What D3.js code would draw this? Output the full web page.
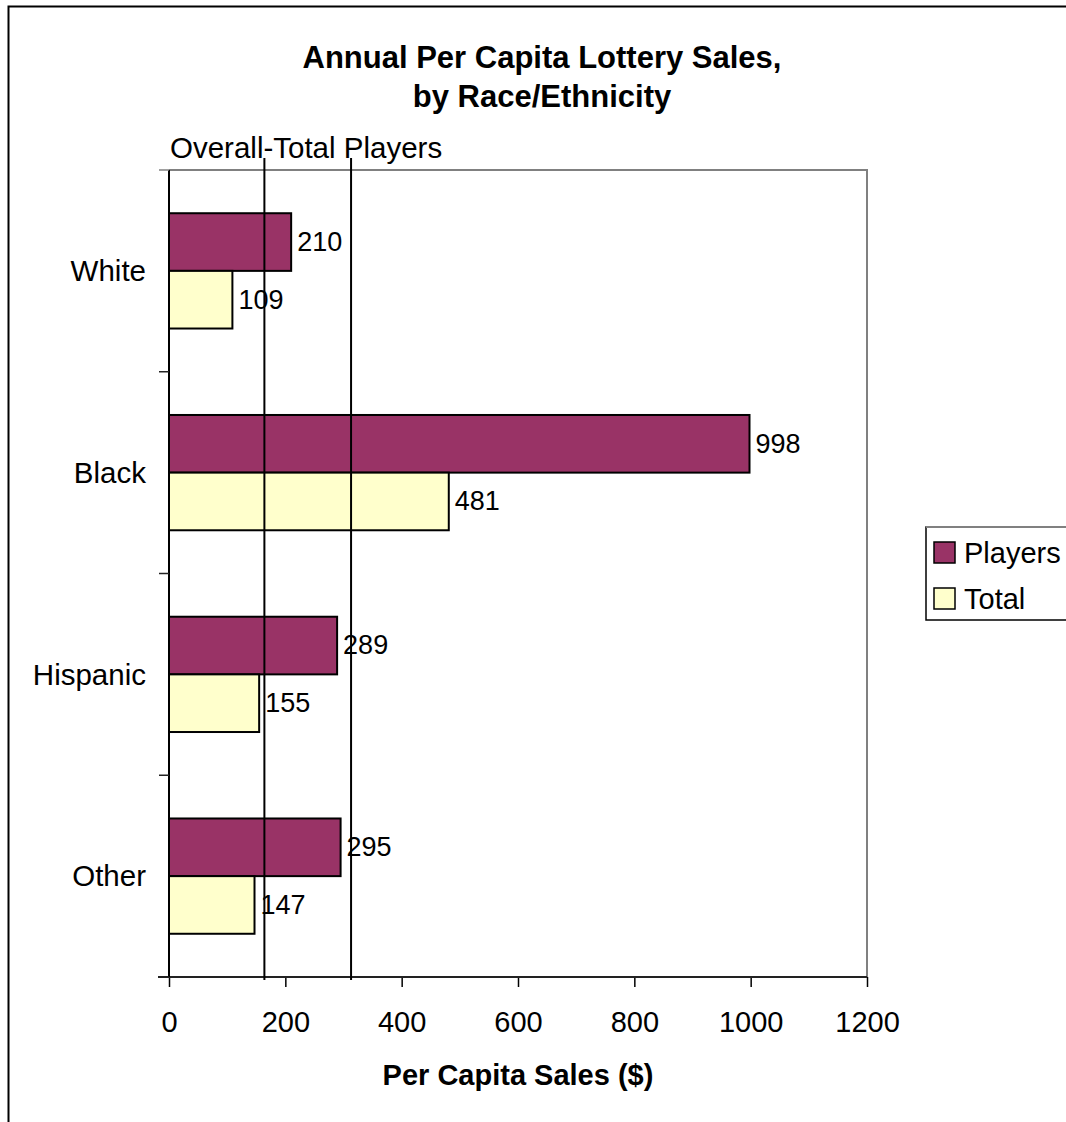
<!DOCTYPE html>
<html>
<head>
<meta charset="utf-8">
<script src="https://cdn.jsdelivr.net/npm/d3@7"></script>
<style>
  html, body { margin: 0; padding: 0; background: #fff; }
  svg { display: block; }
  text { font-family: "Liberation Sans", Arial, sans-serif; fill: #000; }
</style>
</head>
<body>
<svg id="chart" width="1066" height="1122"></svg>
<script>
const categories = ["White", "Black", "Hispanic", "Other"];
const seriesNames = ["Players", "Total"];
const playersValues = [210, 998, 289, 295];
const totalValues = [109, 481, 155, 147];
const xTickValues = [0, 200, 400, 600, 800, 1000, 1200];
const refLineValues = [164, 313];
const refLineLabel = "Overall-Total Players";
const titleLines = ["Annual Per Capita Lottery Sales,", "by Race/Ethnicity"];
const xAxisTitle = "Per Capita Sales ($)";
const colors = { Players: "#993366", Total: "#FFFFCC" };

const svg = d3.select("#chart");
const plot = { left: 169, right: 867, top: 170, bottom: 977 };

// outer chart border
svg.append("rect").attr("x", 8.5).attr("y", 6.5).attr("width", 1200).attr("height", 1200)
  .attr("fill", "none").attr("stroke", "#000").attr("stroke-width", 2);

const x = d3.scaleLinear().domain([0, 1200]).range([plot.left, plot.right]);
const y0 = d3.scaleBand().domain(categories).range([plot.top, plot.bottom]).padding(0);
const y1 = d3.scaleBand().domain(seriesNames).range([0, y0.bandwidth()]).paddingInner(0).paddingOuter(0.75);

// plot area border (top/right gray)
svg.append("path")
  .attr("d", `M${plot.left},${plot.top}H${plot.right}V${plot.bottom}`)
  .attr("fill", "none").attr("stroke", "#808080").attr("stroke-width", 2);

const data = categories.map((c, i) => ({ cat: c, Players: playersValues[i], Total: totalValues[i] }));

// bars
const groups = svg.append("g").selectAll("g").data(data).join("g")
  .attr("transform", d => `translate(0,${y0(d.cat)})`);
groups.selectAll("rect").data(d => seriesNames.map(s => ({ s, v: d[s] }))).join("rect")
  .attr("x", x(0))
  .attr("y", d => y1(d.s))
  .attr("width", d => x(d.v) - x(0))
  .attr("height", y1.bandwidth())
  .attr("fill", d => colors[d.s])
  .attr("stroke", "#000").attr("stroke-width", 2);

// value labels
groups.selectAll("text.val").data(d => seriesNames.map(s => ({ s, v: d[s] }))).join("text")
  .attr("class", "val")
  .attr("x", d => x(d.v) + 6)
  .attr("y", d => y1(d.s) + y1.bandwidth() / 2)
  .attr("dy", "0.33em")
  .attr("font-size", 27)
  .text(d => d.v);

// x axis
const xAxis = d3.axisBottom(x).tickValues(xTickValues).tickSize(10).tickPadding(24).tickFormat(d3.format("d"));
const gx = svg.append("g").attr("transform", `translate(0,${plot.bottom})`).call(xAxis);
gx.select(".domain").remove();
gx.selectAll(".tick line").attr("stroke", "#000").attr("stroke-width", 1.5);
gx.selectAll(".tick text").attr("font-size", 29).attr("font-family", "Liberation Sans, Arial, sans-serif").attr("fill", "#000");
svg.append("line").attr("x1", plot.left - 11).attr("x2", plot.right)
  .attr("y1", plot.bottom).attr("y2", plot.bottom).attr("stroke", "#222").attr("stroke-width", 2);

// y axis line + ticks at band boundaries
svg.append("line").attr("x1", plot.left).attr("x2", plot.left)
  .attr("y1", plot.top).attr("y2", plot.bottom).attr("stroke", "#000").attr("stroke-width", 2);
const boundaries = categories.map(c => y0(c)).concat([plot.bottom]);
svg.append("g").selectAll("line").data(boundaries).join("line")
  .attr("x1", plot.left - 10).attr("x2", plot.left)
  .attr("y1", d => d).attr("y2", d => d)
  .attr("stroke", (d, i) => i === 0 ? "#808080" : "#222").attr("stroke-width", 1.5);

// category labels
svg.append("g").selectAll("text").data(categories).join("text")
  .attr("x", 146).attr("y", d => y0(d) + y0.bandwidth() / 2)
  .attr("dy", "0.35em").attr("text-anchor", "end").attr("font-size", 29.5)
  .text(d => d);

// reference lines
svg.append("g").selectAll("line").data(refLineValues).join("line")
  .attr("x1", d => x(d)).attr("x2", d => x(d))
  .attr("y1", 158).attr("y2", 980)
  .attr("stroke", "#000").attr("stroke-width", 2);
svg.append("text").attr("x", 170).attr("y", 158).attr("font-size", 29.5).text(refLineLabel);

// title
svg.append("g").selectAll("text").data(titleLines).join("text")
  .attr("x", 542).attr("y", (d, i) => 68 + i * 39)
  .attr("text-anchor", "middle").attr("font-size", 31).attr("font-weight", "bold")
  .text(d => d);

// x axis title
svg.append("text").attr("x", (plot.left + plot.right) / 2).attr("y", 1085)
  .attr("text-anchor", "middle").attr("font-size", 29).attr("font-weight", "bold")
  .text(xAxisTitle);

// legend
const lg = svg.append("g");
lg.append("rect").attr("x", 926).attr("y", 527).attr("width", 200).attr("height", 93)
  .attr("fill", "#fff").attr("stroke", "#000").attr("stroke-width", 1.5);
lg.append("line").attr("x1", 926).attr("x2", 1066).attr("y1", 527).attr("y2", 527)
  .attr("stroke", "#808080").attr("stroke-width", 2);
const li = lg.selectAll("g.item").data(seriesNames).join("g").attr("class", "item")
  .attr("transform", (d, i) => `translate(934,${542 + i * 46})`);
li.append("rect").attr("width", 21).attr("height", 21)
  .attr("fill", d => colors[d]).attr("stroke", "#000").attr("stroke-width", 1.5);
li.append("text").attr("x", 30).attr("y", 10.5).attr("dy", "0.35em").attr("font-size", 29).text(d => d);
</script>
</body>
</html>
